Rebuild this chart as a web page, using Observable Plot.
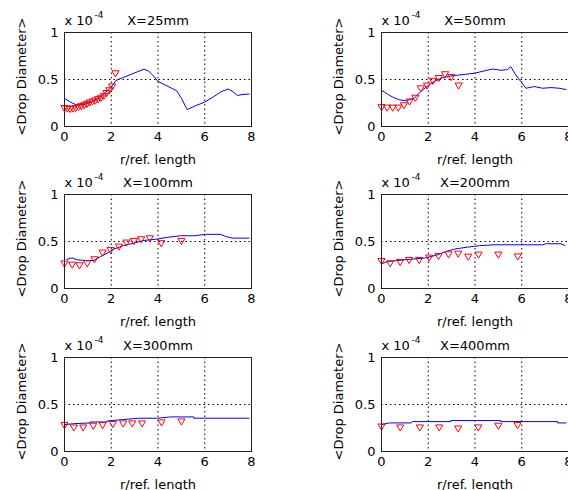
<!DOCTYPE html>
<html><head><meta charset="utf-8">
<script src="https://cdn.jsdelivr.net/npm/d3@7"></script>
<script src="https://cdn.jsdelivr.net/npm/@observablehq/plot@0.6"></script>
<style>
html,body{margin:0;padding:0;background:#fff;overflow:hidden;}
#chart{position:relative;width:568px;height:490px;overflow:hidden;background:#fff;}
.panel{position:absolute;}
</style></head><body><div id="chart"></div>
<script>
// Tick labels / grid
const xTicks = [0, 2, 4, 6, 8];
const yTicks = [0, 0.5, 1];
const gridX = [2, 4, 6];
const gridY = [0.5];
const titles = ["X=25mm", "X=50mm", "X=100mm", "X=200mm", "X=300mm", "X=400mm"];
const xLabel = "r/ref. length";
const yLabel = "<Drop Diameter>";

// Values in units of 1e-4 (model line: r, diameter; experiment triangles: r, diameter)
const model25R = [0, 0.25, 0.5, 0.75, 1.0, 1.25, 1.5, 1.75, 2.0, 2.2, 2.5, 2.8, 3.1, 3.4, 3.6, 3.8, 4.0, 4.4, 4.8, 5.0, 5.25, 5.6, 6.0, 6.4, 6.7, 7.0, 7.2, 7.4, 7.6, 7.9];
const model25D = [0.30, 0.26, 0.23, 0.23, 0.25, 0.27, 0.31, 0.36, 0.42, 0.49, 0.52, 0.55, 0.58, 0.61, 0.59, 0.54, 0.48, 0.43, 0.38, 0.30, 0.18, 0.22, 0.26, 0.32, 0.37, 0.40, 0.37, 0.33, 0.34, 0.345];
const exp25R = [0, 0.12, 0.24, 0.36, 0.48, 0.6, 0.72, 0.84, 0.96, 1.08, 1.2, 1.32, 1.44, 1.56, 1.68, 1.8, 1.92, 2.04, 2.18];
const exp25D = [0.19, 0.185, 0.18, 0.185, 0.19, 0.2, 0.21, 0.22, 0.235, 0.25, 0.26, 0.27, 0.285, 0.30, 0.32, 0.35, 0.38, 0.42, 0.56];

const model50R = [0, 0.26, 0.5, 0.76, 1.04, 1.4, 1.68, 2.11, 2.54, 2.97, 3.32, 3.97, 4.39, 4.75, 5.11, 5.39, 5.53, 5.75, 5.96, 6.18, 6.53, 6.89, 7.25, 7.6, 7.89];
const model50D = [0.386, 0.344, 0.31, 0.284, 0.273, 0.30, 0.372, 0.46, 0.513, 0.538, 0.548, 0.566, 0.591, 0.612, 0.598, 0.605, 0.637, 0.548, 0.478, 0.407, 0.425, 0.407, 0.414, 0.407, 0.393];
const exp50R = [0, 0.24, 0.48, 0.72, 0.96, 1.2, 1.45, 1.68, 1.95, 2.2, 2.45, 2.72, 2.98, 3.3];
const exp50D = [0.20, 0.195, 0.195, 0.195, 0.22, 0.26, 0.30, 0.40, 0.43, 0.48, 0.51, 0.55, 0.52, 0.43];

const model100R = [0.1, 0.33, 0.54, 0.9, 1.26, 1.54, 1.83, 2.11, 2.54, 2.97, 3.4, 3.97, 4.39, 4.96, 5.53, 6.03, 6.68, 6.89, 7.18, 7.89];
const model100D = [0.31, 0.326, 0.305, 0.298, 0.298, 0.34, 0.376, 0.419, 0.458, 0.483, 0.511, 0.526, 0.544, 0.561, 0.561, 0.576, 0.576, 0.554, 0.536, 0.536];
const exp100R = [0, 0.33, 0.64, 0.97, 1.28, 1.63, 1.97, 2.33, 2.65, 2.97, 3.28, 3.65, 4.14, 5.0];
const exp100D = [0.26, 0.248, 0.241, 0.262, 0.305, 0.376, 0.404, 0.44, 0.483, 0.50, 0.518, 0.529, 0.476, 0.50];

const model200R = [0, 0.26, 0.68, 1.26, 1.83, 2.4, 2.75, 3.18, 3.68, 4.18, 4.82, 5.53, 6.25, 6.9, 7.03, 7.67, 7.85];
const model200D = [0.262, 0.287, 0.298, 0.312, 0.323, 0.358, 0.394, 0.422, 0.44, 0.455, 0.465, 0.465, 0.465, 0.465, 0.476, 0.476, 0.458];
const exp200R = [0, 0.37, 0.8, 1.18, 1.61, 2.04, 2.44, 2.87, 3.28, 3.71, 4.15, 5.0, 5.83];
const exp200D = [0.287, 0.262, 0.276, 0.298, 0.298, 0.323, 0.34, 0.358, 0.365, 0.333, 0.355, 0.355, 0.335];

const model300R = [0, 0.15, 0.4, 1.1, 1.1, 1.83, 1.83, 2.47, 3.18, 3.97, 4.54, 5.53, 5.53, 7.89];
const model300D = [0.285, 0.29, 0.296, 0.304, 0.314, 0.314, 0.325, 0.339, 0.354, 0.354, 0.368, 0.368, 0.354, 0.354];
const exp300R = [0, 0.4, 0.8, 1.23, 1.63, 2.07, 2.51, 2.9, 3.32, 4.15, 5.0];
const exp300D = [0.275, 0.25, 0.25, 0.268, 0.275, 0.286, 0.293, 0.293, 0.293, 0.304, 0.314];

const model400R = [0, 0.33, 1.26, 1.33, 2.97, 2.97, 5.1, 5.1, 7.53, 7.53, 7.89];
const model400D = [0.286, 0.304, 0.304, 0.318, 0.318, 0.329, 0.329, 0.318, 0.318, 0.304, 0.304];
const exp400R = [0, 0.8, 1.64, 2.47, 3.28, 4.14, 5.0, 5.82];
const exp400D = [0.26, 0.25, 0.25, 0.25, 0.239, 0.25, 0.268, 0.275];

const panels = [
  {title: titles[0], mR: model25R, mD: model25D, eR: exp25R, eD: exp25D},
  {title: titles[1], mR: model50R, mD: model50D, eR: exp50R, eD: exp50D},
  {title: titles[2], mR: model100R, mD: model100D, eR: exp100R, eD: exp100D},
  {title: titles[3], mR: model200R, mD: model200D, eR: exp200R, eD: exp200D},
  {title: titles[4], mR: model300R, mD: model300D, eR: exp300R, eD: exp300D},
  {title: titles[5], mR: model400R, mD: model400D, eR: exp400R, eD: exp400D}
];

const triDown = {
  draw(ctx, size) {
    const r = Math.sqrt(size / Math.PI);
    ctx.moveTo(-r, -r * 0.85);
    ctx.lineTo(r, -r * 0.85);
    ctx.lineTo(0, r * 0.85);
    ctx.closePath();
  }
};

const colLeft = [0, 317];
const rowTop = [0, 162, 325];
const chart = document.getElementById("chart");
const font = "DejaVu Sans";

panels.forEach((p, i) => {
  const col = i % 2, row = Math.floor(i / 2);
  const model = p.mR.map((r, k) => ({r, d: p.mD[k]}));
  const exp = p.eR.map((r, k) => ({r, d: p.eD[k]}));
  const svg = Plot.plot({
    width: 284, height: 163,
    marginLeft: 64, marginRight: 33, marginTop: 32, marginBottom: 37,
    style: {fontFamily: font, fontSize: "13px", color: "#000", background: "transparent", overflow: "visible"},
    x: {domain: [0, 8]},
    y: {domain: [0, 1]},
    marks: [
      Plot.ruleX(gridX, {stroke: "#000", strokeWidth: 1, strokeDasharray: "1.5,3"}),
      Plot.ruleY(gridY, {stroke: "#000", strokeWidth: 1, strokeDasharray: "1.5,3"}),
      Plot.line(model, {x: "r", y: "d", stroke: "#0000ff", strokeWidth: 1}),
      Plot.dot(exp, {x: "r", y: "d", symbol: triDown, r: 3.6, stroke: "#ff0000", fill: "none", strokeWidth: 1}),
      Plot.frame({stroke: "#222", strokeWidth: 1}),
      Plot.axisX({ticks: xTicks, tickSize: 0, tickPadding: 5, label: null, tickFormat: d => String(d)}),
      Plot.axisY({ticks: yTicks, tickSize: 0, tickPadding: 6, label: null, tickFormat: d => String(d)}),
      Plot.text([xLabel], {text: d => d, frameAnchor: "bottom", textAnchor: "middle", dy: 33, lineAnchor: "middle"}),
      Plot.text([yLabel], {text: d => d, frameAnchor: "left", textAnchor: "middle", rotate: -90, dx: -43, dy: -3, lineAnchor: "middle"}),
      Plot.text([p.title], {text: d => d, frameAnchor: "top", textAnchor: "middle", dy: -8, lineAnchor: "bottom"}),
      Plot.text(["x 10"], {text: d => d, frameAnchor: "top-left", textAnchor: "start", dy: -8, lineAnchor: "bottom"}),
      Plot.text(["-4"], {text: d => d, frameAnchor: "top-left", textAnchor: "start", dx: 30, dy: -14.5, lineAnchor: "bottom", fontSize: 9})
    ]
  });
  svg.classList.add("panel");
  svg.style.left = colLeft[col] + "px";
  svg.style.top = rowTop[row] + "px";
  chart.appendChild(svg);
});
</script>
</body></html>
